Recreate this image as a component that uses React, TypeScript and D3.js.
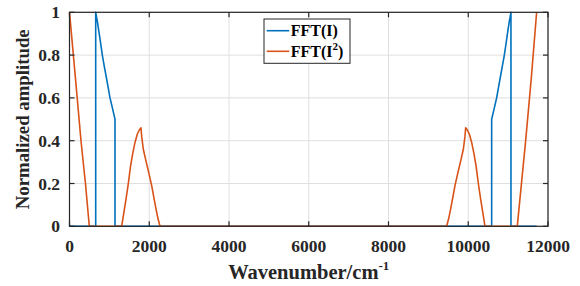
import React from "react";
import * as d3 from "d3";

const xTicks = [0, 2000, 4000, 6000, 8000, 10000, 12000];
const yTicks = [0, 0.2, 0.4, 0.6, 0.8, 1];
const yTickLabels = ["0", "0.2", "0.4", "0.6", "0.8", "1"];

const fftIX = [0, 657, 657, 700, 745, 785, 823, 870, 920, 968, 1016, 1080, 1141, 1141,
  10587, 10587, 10650, 10712, 10760, 10808, 10856, 10905, 10945, 10983, 11028, 11071, 11071, 11715];
const fftIY = [0, 0, 1, 0.955, 0.9, 0.85, 0.8, 0.75, 0.7, 0.65, 0.6, 0.55, 0.5, 0,
  0, 0.5, 0.55, 0.6, 0.65, 0.7, 0.75, 0.8, 0.85, 0.9, 0.955, 1, 0, 0];

const fftI2X = [0, 150, 288, 400, 497, 1308, 1360, 1420, 1475, 1530, 1585, 1640, 1700, 1750, 1793,
  1810, 1851, 1900, 1950, 2000, 2061, 2120, 2170, 2220, 2270,
  9458, 9508, 9558, 9608, 9667, 9728, 9778, 9828, 9877, 9918, 9935,
  9978, 10028, 10088, 10143, 10198, 10253, 10308, 10368, 10420, 11229, 11440, 11580, 11715];
const fftI2Y = [1, 0.69, 0.4, 0.2, 0, 0, 0.06, 0.13, 0.2, 0.28, 0.34, 0.39, 0.43, 0.45, 0.46,
  0.42, 0.36, 0.32, 0.28, 0.24, 0.19, 0.13, 0.08, 0.035, 0,
  0, 0.035, 0.08, 0.13, 0.19, 0.24, 0.28, 0.32, 0.36, 0.42, 0.46,
  0.45, 0.43, 0.39, 0.34, 0.28, 0.2, 0.13, 0.06, 0, 0, 0.4, 0.69, 1];

const W = 580, H = 286;
const L = 69.5, R = 548, T = 12.3, B = 226.3;
const font = "'Liberation Serif', 'Times New Roman', serif";
const axisColor = "#262626";

export default function App() {
  const x = d3.scaleLinear().domain([0, 12000]).range([L, R]);
  const y = d3.scaleLinear().domain([0, 1]).range([B, T]);
  const line = d3.line<[number, number]>().x(d => x(d[0])).y(d => y(d[1]));
  const blue = line(fftIX.map((v, i) => [v, fftIY[i]] as [number, number])) || "";
  const orange = line(fftI2X.map((v, i) => [v, fftI2Y[i]] as [number, number])) || "";
  const tl = 5;
  return (
    <svg width={W} height={H} style={{ position: "absolute", left: 0, top: 0, background: "#fff" }}>
      <rect x={0} y={0} width={W} height={H} fill="#fff" />
      {xTicks.map(t => (
        <line key={"gx" + t} x1={x(t)} x2={x(t)} y1={T} y2={B} stroke="#dfdfdf" strokeWidth={1} />
      ))}
      {yTicks.map(t => (
        <line key={"gy" + t} x1={L} x2={R} y1={y(t)} y2={y(t)} stroke="#dfdfdf" strokeWidth={1} />
      ))}
      <path d={blue} fill="none" stroke="#0072BD" strokeWidth={1.6} strokeLinejoin="round" />
      <path d={orange} fill="none" stroke="#D95319" strokeWidth={1.6} strokeLinejoin="round" />
      <rect x={L} y={T} width={R - L} height={B - T} fill="none" stroke={axisColor} strokeWidth={1.2} />
      {xTicks.map(t => (
        <g key={"tx" + t}>
          <line x1={x(t)} x2={x(t)} y1={B} y2={B - tl} stroke={axisColor} strokeWidth={1.2} />
          <line x1={x(t)} x2={x(t)} y1={T} y2={T + tl} stroke={axisColor} strokeWidth={1.2} />
          <text x={x(t)} y={251.5} textAnchor="middle" fontFamily={font} fontWeight="bold" fontSize={17.5} fill={axisColor}>
            {t}
          </text>
        </g>
      ))}
      {yTicks.map((t, i) => (
        <g key={"ty" + t}>
          <line x1={L} x2={L + tl} y1={y(t)} y2={y(t)} stroke={axisColor} strokeWidth={1.2} />
          <line x1={R} x2={R - tl} y1={y(t)} y2={y(t)} stroke={axisColor} strokeWidth={1.2} />
          <text x={60} y={y(t) + 6} textAnchor="end" fontFamily={font} fontWeight="bold" fontSize={17.5} fill={axisColor}>
            {yTickLabels[i]}
          </text>
        </g>
      ))}
      <text x={(L + R) / 2} y={278.5} textAnchor="middle" fontFamily={font} fontWeight="bold" fontSize={20.5} fill={axisColor}>
        Wavenumber/cm<tspan dy={-9} fontSize={13}>-1</tspan>
      </text>
      <text transform={`translate(29,${(T + B) / 2}) rotate(-90)`} textAnchor="middle" fontFamily={font} fontWeight="bold" fontSize={18.8} fill={axisColor}>
        Normalized amplitude
      </text>
      <rect x={264} y={19} width={86} height={44.3} fill="#fff" stroke={axisColor} strokeWidth={1} />
      <line x1={266.7} x2={289.3} y1={30.7} y2={30.7} stroke="#0072BD" strokeWidth={1.6} />
      <line x1={266.7} x2={289.3} y1={51.3} y2={51.3} stroke="#D95319" strokeWidth={1.6} />
      <text x={290.7} y={36.3} fontFamily={font} fontWeight="bold" fontSize={16} fill="#000">FFT(I)</text>
      <text x={290.7} y={57} fontFamily={font} fontWeight="bold" fontSize={16} fill="#000">
        FFT(I<tspan dy={-7} fontSize={11}>2</tspan><tspan dy={7}>)</tspan>
      </text>
    </svg>
  );
}
